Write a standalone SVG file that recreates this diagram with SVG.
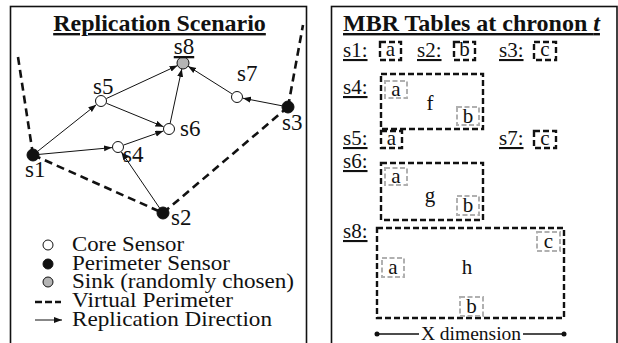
<svg xmlns="http://www.w3.org/2000/svg" width="618" height="343" viewBox="0 0 618 343">
<defs>
<marker id="ah" markerUnits="userSpaceOnUse" markerWidth="9" markerHeight="7" refX="8" refY="3" orient="auto">
<path d="M0,0 L8,3 L0,6 z" fill="#111"/>
</marker>
<style>
.title{font-size:24px;font-weight:bold;text-decoration:underline}
.lbl{font-size:23px}
.leg{font-size:21px}
.rl{font-size:21px;text-decoration:underline}
.let{font-size:21px}
.panel{fill:none;stroke:#111;stroke-width:1.6}
.per{fill:none;stroke:#111;stroke-width:2.6;stroke-dasharray:8 5}
.arr{stroke:#111;stroke-width:1;marker-end:url(#ah)}
.core{fill:#fff;stroke:#111;stroke-width:1}
.peri{fill:#111;stroke:#111;stroke-width:1}
.sink{fill:#b4b4b4;stroke:#111;stroke-width:1}
.bbox{fill:none;stroke:#111;stroke-width:2.4;stroke-dasharray:6 3}
.gbox{fill:none;stroke:#b0b0b0;stroke-width:2;stroke-dasharray:5 2.5}
</style>
</defs>
<g font-family="'Liberation Serif', 'Times New Roman', 'DejaVu Serif', serif" fill="#111">
<rect class="panel" x="10.5" y="6.5" width="296" height="400"/>
<rect class="panel" x="331.5" y="6.5" width="285.5" height="400"/>
<text class="title" x="159.5" y="31" text-anchor="middle">Replication Scenario</text>
<g id="perimeter">
<line class="per" x1="18" y1="57" x2="33" y2="155"/>
<line class="per" x1="33" y1="155" x2="163" y2="213"/>
<line class="per" x1="163" y1="213" x2="288" y2="107"/>
<line class="per" x1="288" y1="107" x2="303" y2="25"/>
</g>
<g id="connectors">
<line class="arr" x1="37.7" y1="151.3" x2="96.3" y2="104.7"/>
<line class="arr" x1="39" y1="154.4" x2="112" y2="147.6"/>
<line class="arr" x1="106.4" y1="98.5" x2="177.6" y2="65.5"/>
<line class="arr" x1="106.5" y1="103.3" x2="163.5" y2="126.7"/>
<line class="arr" x1="123.7" y1="145" x2="163.3" y2="131"/>
<line class="arr" x1="170.2" y1="123.1" x2="181.8" y2="68.9"/>
<line class="arr" x1="282.1" y1="105.8" x2="242.9" y2="98.2"/>
<line class="arr" x1="231.9" y1="93.8" x2="188.1" y2="66.2"/>
<line class="arr" x1="159.6" y1="208" x2="121.4" y2="152"/>
</g>
<g id="s1"><circle class="peri" cx="33" cy="155" r="6"/><text class="lbl" x="25" y="177">s1</text></g>
<g id="s2"><circle class="peri" cx="163" cy="213" r="6"/><text class="lbl" x="171" y="225">s2</text></g>
<g id="s3"><circle class="peri" cx="288" cy="107" r="6"/><text class="lbl" x="282" y="130">s3</text></g>
<g id="s4"><circle class="core" cx="118" cy="147" r="5.5"/><text class="lbl" x="123" y="162">s4</text></g>
<g id="s5"><circle class="core" cx="101" cy="101" r="5.5"/><text class="lbl" x="93" y="94">s5</text></g>
<g id="s6"><circle class="core" cx="169" cy="129" r="5.5"/><text class="lbl" x="180" y="136">s6</text></g>
<g id="s7"><circle class="core" cx="237" cy="97" r="5.5"/><text class="lbl" x="237" y="81">s7</text></g>
<g id="s8"><circle class="sink" cx="183" cy="63" r="6"/><text class="lbl" x="184" y="54" text-anchor="middle" text-decoration="underline">s8</text></g>
<g id="legend">
<circle class="core" cx="48" cy="245" r="5"/><text class="leg" x="72" y="251" textLength="112" lengthAdjust="spacingAndGlyphs">Core Sensor</text>
<circle class="peri" cx="48" cy="264" r="5"/><text class="leg" x="72" y="270" textLength="158" lengthAdjust="spacingAndGlyphs">Perimeter Sensor</text>
<circle class="sink" cx="48" cy="282" r="5"/><text class="leg" x="72" y="288" textLength="222" lengthAdjust="spacingAndGlyphs">Sink (randomly chosen)</text>
<line class="per" x1="35" y1="302" x2="61" y2="302" style="stroke-dasharray:7 3"/><text class="leg" x="72" y="307" textLength="161" lengthAdjust="spacingAndGlyphs">Virtual Perimeter</text>
<line class="arr" x1="35" y1="320" x2="62" y2="320"/><text class="leg" x="72" y="326" textLength="200" lengthAdjust="spacingAndGlyphs">Replication Direction</text>
</g>
<text class="title" x="343" y="31">MBR Tables at chronon <tspan font-style="italic">t</tspan></text>
<g id="t1"><text class="rl" x="343" y="57">s1:</text><rect class="bbox" x="380" y="42" width="21" height="18"/><text class="let" x="390.5" y="56" text-anchor="middle">a</text></g>
<g id="t2"><text class="rl" x="417" y="57">s2:</text><rect class="bbox" x="454" y="42" width="21" height="18"/><text class="let" x="464.5" y="56" text-anchor="middle">b</text></g>
<g id="t3"><text class="rl" x="499" y="57">s3:</text><rect class="bbox" x="534" y="42" width="22" height="18"/><text class="let" x="545" y="56" text-anchor="middle">c</text></g>
<g id="t4"><text class="rl" x="343" y="94">s4:</text>
<rect class="bbox" x="381" y="74" width="102" height="55"/>
<rect class="gbox" x="385" y="81" width="22" height="17"/><text class="let" x="396" y="96" text-anchor="middle">a</text>
<rect class="gbox" x="457" y="107" width="22" height="18"/><text class="let" x="468" y="123" text-anchor="middle">b</text>
<text class="let" x="430" y="110" text-anchor="middle">f</text></g>
<g id="t5"><text class="rl" x="343" y="145">s5:</text><rect class="bbox" x="381" y="131" width="21" height="17"/><text class="let" x="391.5" y="145" text-anchor="middle">a</text></g>
<g id="t7"><text class="rl" x="499" y="145">s7:</text><rect class="bbox" x="534" y="131" width="22" height="17"/><text class="let" x="545" y="145" text-anchor="middle">c</text></g>
<g id="t6"><text class="rl" x="343" y="168">s6:</text>
<rect class="bbox" x="381" y="163" width="102" height="57"/>
<rect class="gbox" x="385" y="168" width="22" height="17"/><text class="let" x="396" y="183" text-anchor="middle">a</text>
<rect class="gbox" x="457" y="196" width="22" height="19"/><text class="let" x="468" y="212" text-anchor="middle">b</text>
<text class="let" x="430" y="202" text-anchor="middle">g</text></g>
<g id="t8"><text class="rl" x="343" y="238">s8:</text>
<rect class="bbox" x="377" y="228" width="187" height="90"/>
<rect class="gbox" x="537" y="232" width="23" height="19"/><text class="let" x="548.5" y="248" text-anchor="middle">c</text>
<rect class="gbox" x="382" y="258" width="22" height="19"/><text class="let" x="393" y="274" text-anchor="middle">a</text>
<rect class="gbox" x="460" y="297" width="23" height="19"/><text class="let" x="471.5" y="313" text-anchor="middle">b</text>
<text class="let" x="467" y="274" text-anchor="middle">h</text></g>
<g id="xdim">
<line x1="377" y1="334" x2="419" y2="334" stroke="#111" stroke-width="1.5"/>
<line x1="523" y1="334" x2="564" y2="334" stroke="#111" stroke-width="1.5"/>
<circle cx="377" cy="334" r="2.5" fill="#111"/><circle cx="564" cy="334" r="2.5" fill="#111"/>
<text x="471" y="340" text-anchor="middle" style="font-size:19.5px">X dimension</text>
</g>
</g>
</svg>
